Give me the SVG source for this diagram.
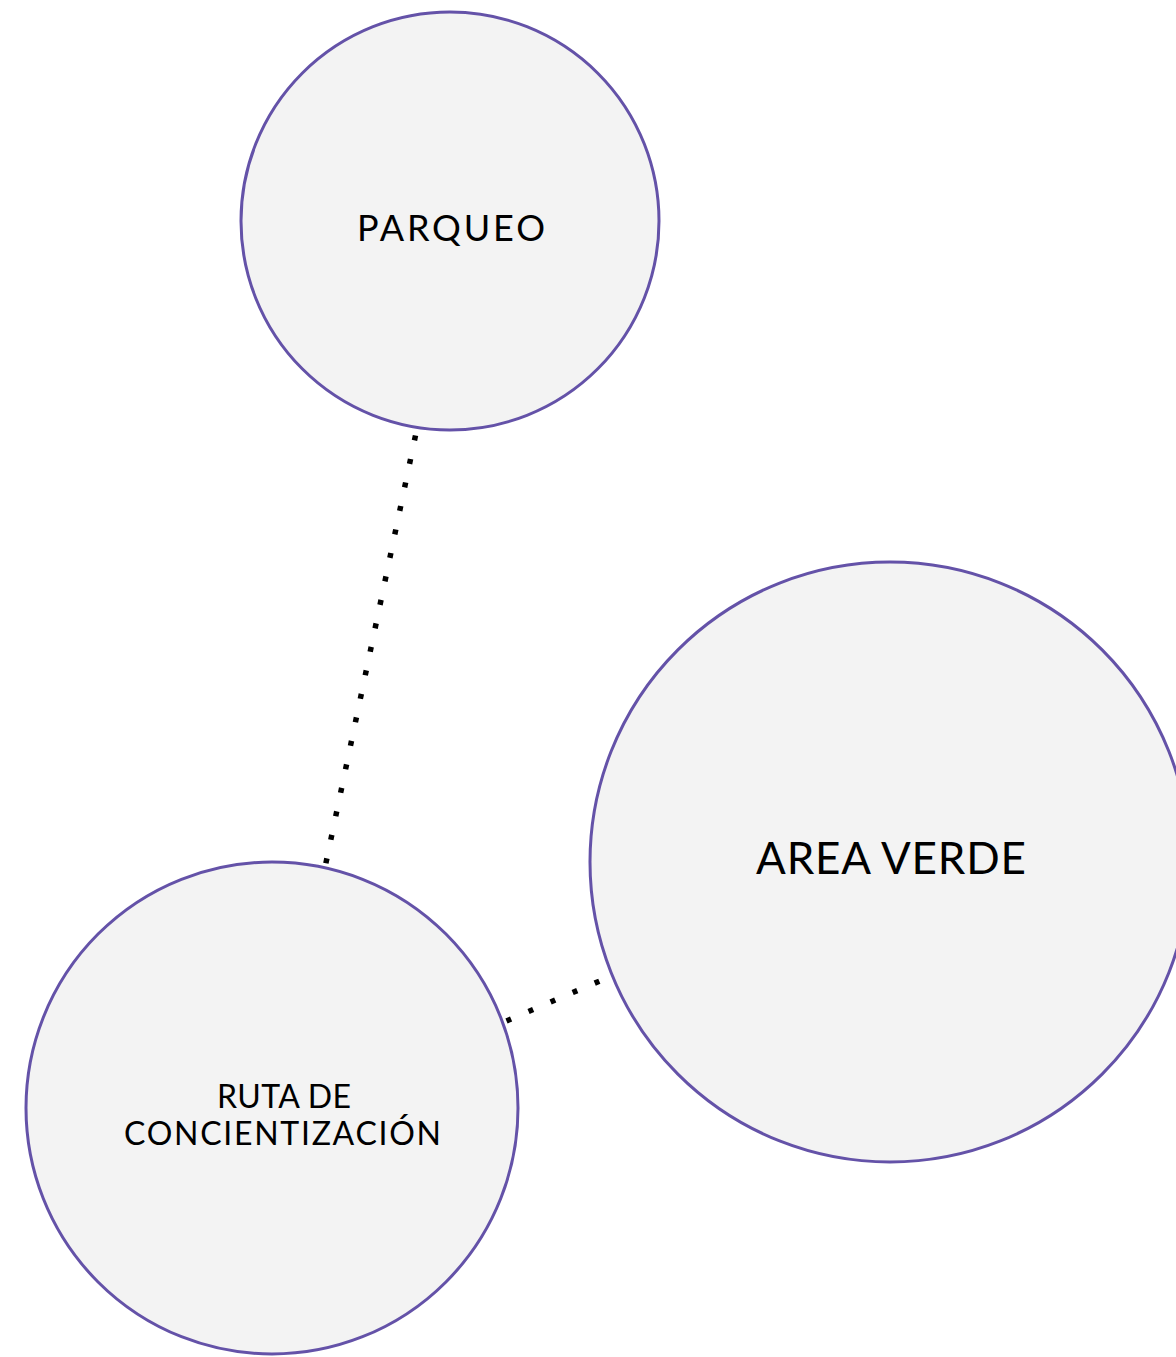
<svg xmlns="http://www.w3.org/2000/svg" width="1176" height="1357" viewBox="0 0 1176 1357">
<style>
.node{fill:#f3f3f3;stroke:#6452a8;stroke-width:3}
.lbl{font-family:Lato,"Noto Sans",sans-serif;fill:#000;text-anchor:middle}
.dot{stroke:#000;stroke-width:5.5;fill:none;stroke-dasharray:5 19}
</style>
<rect width="1176" height="1357" fill="#fff"/>
<g id="connectors">
<line class="dot" x1="415.5" y1="435.5" x2="325.5" y2="865"/>
<line class="dot" x1="506.5" y1="1021" x2="602" y2="980"/>
</g>
<g id="parqueo">
<circle class="node" cx="450" cy="221" r="209"/>
<text class="lbl" x="451" y="241" font-size="36" textLength="188" lengthAdjust="spacing">PARQUEO</text>
</g>
<g id="area-verde">
<circle class="node" cx="890" cy="862" r="300"/>
<text class="lbl" x="891" y="874" font-size="44" textLength="270" lengthAdjust="spacing">AREA VERDE</text>
</g>
<g id="ruta">
<circle class="node" cx="272" cy="1108" r="246"/>
<text class="lbl" x="284" y="1108" font-size="32" textLength="134" lengthAdjust="spacing">RUTA DE</text>
<text class="lbl" x="282.5" y="1145" font-size="32" textLength="317" lengthAdjust="spacing">CONCIENTIZACIÓN</text>
</g>
</svg>
